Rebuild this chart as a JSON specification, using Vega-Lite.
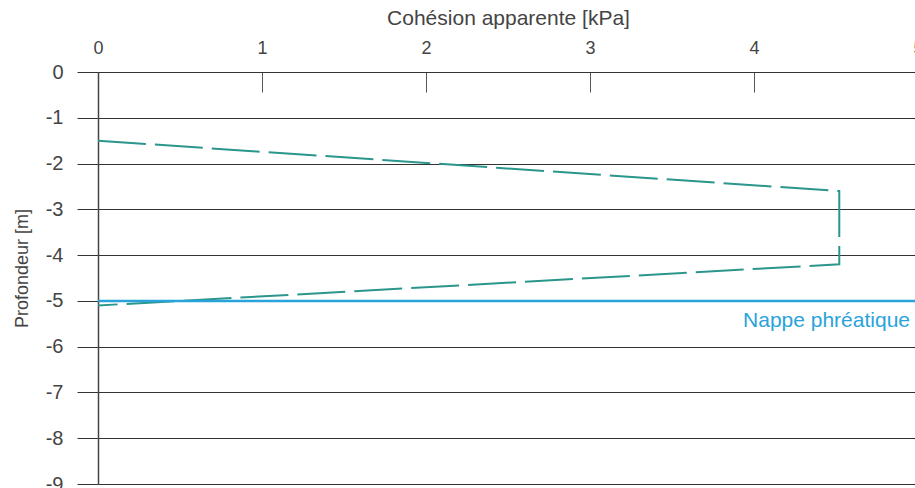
{
  "$schema": "https://vega.github.io/schema/vega-lite/v6.json",
  "width": 820,
  "height": 412,
  "autosize": "none",
  "padding": {"left": 98, "top": 72, "right": 0, "bottom": 4},
  "config": {
    "view": {"stroke": null},
    "font": "Liberation Sans",
    "axis": {"labelColor": "#444", "titleColor": "#444", "labelFont": "Liberation Sans", "titleFont": "Liberation Sans", "titleFontWeight": "normal"}
  },
  "datasets": {
    "cohesion": [
      {"c": 0, "z": -1.5, "o": 1},
      {"c": 4.52, "z": -2.6, "o": 2},
      {"c": 4.52, "z": -4.2, "o": 3},
      {"c": 0, "z": -5.1, "o": 4}
    ],
    "nappe": [
      {"c": 0, "z": -5},
      {"c": 5, "z": -5}
    ],
    "label": [
      {"c": 5, "z": -5, "t": "Nappe phréatique"}
    ]
  },
  "layer": [
    {
      "data": {"name": "cohesion"},
      "mark": {"type": "line", "color": "#2a968c", "strokeWidth": 2, "strokeDash": [48, 9], "clip": false},
      "encoding": {
        "x": {
          "field": "c", "type": "quantitative",
          "scale": {"domain": [0, 5], "nice": false, "zero": false},
          "axis": {
            "orient": "top", "values": [0, 1, 2, 3, 4, 5], "grid": false,
            "labelExpr": "'' + datum.value", "labelFlush": false, "labelOverlap": false,
            "title": "Cohésion apparente [kPa]", "titleFontSize": 21, "titlePadding": 11,
            "labelFontSize": 18, "labelPadding": 35,
            "tickSize": -20, "tickColor": "#555", "tickWidth": 1,
            "domainColor": "#333", "domainWidth": 1.2
          }
        },
        "y": {
          "field": "z", "type": "quantitative",
          "scale": {"domain": [-9, 0], "nice": false, "zero": false},
          "axis": {
            "values": [0, -1, -2, -3, -4, -5, -6, -7, -8, -9],
            "labelExpr": "'' + datum.value", "labelFlush": false, "labelOverlap": false,
            "title": "Profondeur [m]", "titleFontSize": 18, "titlePadding": 14, "titleY": 196,
            "labelFontSize": 20, "labelPadding": 14,
            "tickSize": 21, "tickColor": "#333", "tickWidth": 1,
            "grid": true, "gridColor": "#333", "gridWidth": 1, "gridOpacity": 1,
            "domainColor": "#444", "domainWidth": 1.5
          }
        },
        "order": {"field": "o", "type": "quantitative"}
      }
    },
    {
      "data": {"name": "nappe"},
      "mark": {"type": "line", "color": "#2aa3db", "strokeWidth": 2.5, "clip": false},
      "encoding": {
        "x": {"field": "c", "type": "quantitative"},
        "y": {"field": "z", "type": "quantitative"}
      }
    },
    {
      "data": {"name": "label"},
      "mark": {"type": "text", "color": "#2aa3db", "fontSize": 21, "align": "right", "baseline": "alphabetic", "dx": -8, "dy": 26},
      "encoding": {
        "x": {"field": "c", "type": "quantitative"},
        "y": {"field": "z", "type": "quantitative"},
        "text": {"field": "t"}
      }
    }
  ]
}
